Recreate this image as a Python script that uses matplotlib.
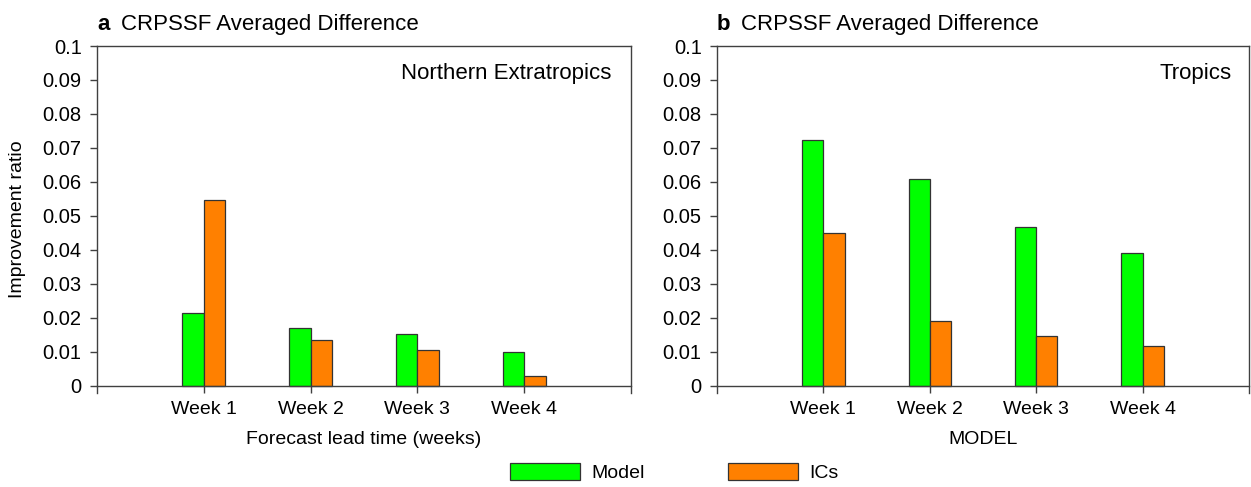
import matplotlib
matplotlib.use("Agg")
import matplotlib.pyplot as plt
import numpy as np

plt.rcParams['font.family'] = ['Liberation Sans', 'DejaVu Sans']

weeks = ["Week 1", "Week 2", "Week 3", "Week 4"]
nh_model = [0.0214, 0.0172, 0.0152, 0.0101]
nh_ics = [0.0547, 0.0135, 0.0105, 0.0029]
tr_model = [0.0724, 0.0608, 0.0467, 0.0391]
tr_ics = [0.0451, 0.0192, 0.0147, 0.0118]
yticks = [0, 0.01, 0.02, 0.03, 0.04, 0.05, 0.06, 0.07, 0.08, 0.09, 0.1]
ytick_labels = ["0", "0.01", "0.02", "0.03", "0.04", "0.05", "0.06", "0.07", "0.08", "0.09", "0.1"]

green = "#00ff00"
orange = "#ff8000"
edge = "#333333"
spine = "#404040"

fig = plt.figure(figsize=(12.51, 4.87), dpi=100)
ax_a = fig.add_axes([97 / 1251, 1 - 393 / 487, 534 / 1251, 347 / 487])
ax_b = fig.add_axes([717 / 1251, 1 - 393 / 487, 532 / 1251, 347 / 487])


def draw_panel(ax, model, ics, letter, region, region_x, xlabel):
    x = np.arange(1, len(weeks) + 1)
    ax.bar(x - 0.1, model, width=0.2, color=green, edgecolor=edge, linewidth=0.9, label="Model")
    ax.bar(x + 0.1, ics, width=0.2, color=orange, edgecolor=edge, linewidth=0.9, label="ICs")
    ax.set_xlim(0, 5)
    ax.set_ylim(-0.00206, 0.1)
    ax.spines['bottom'].set_position(('data', 0))
    for s in ax.spines.values():
        s.set_color(spine)
        s.set_linewidth(1.0)
    ax.set_xticks(x)
    ax.set_xticklabels(weeks)
    ax.set_yticks(yticks)
    ax.set_yticklabels(ytick_labels)
    ax.tick_params(axis='y', direction='out', length=5, width=1.0, color=spine, labelsize=14.5, pad=6)
    ax.tick_params(axis='x', direction='out', length=5, width=1.0, color=spine, labelsize=14, pad=6)
    ax.text(region_x, 0.922, region, transform=ax.transAxes, ha='right', va='center', fontsize=16)
    ax.annotate(letter, xy=(0, 1), xycoords='axes fraction', xytext=(0, 15.5),
                textcoords='offset points', fontsize=16, fontweight='bold', va='center', ha='left')
    ax.annotate("CRPSSF Averaged Difference", xy=(0, 1), xycoords='axes fraction', xytext=(17, 15.5),
                textcoords='offset points', fontsize=16, va='center', ha='left')
    ax.set_xlabel(xlabel, fontsize=14, labelpad=9)


draw_panel(ax_a, nh_model, nh_ics, "a", "Northern Extratropics", 0.9625, "Forecast lead time (weeks)")
draw_panel(ax_b, tr_model, tr_ics, "b", "Tropics", 0.968, "MODEL")
ax_a.set_ylabel("Improvement ratio", fontsize=14)
ax_a.yaxis.set_label_coords(-0.133, 0.5)

handles, labels = ax_a.get_legend_handles_labels()
fig.legend(handles, labels, loc='center', bbox_to_anchor=(0.539, 0.029), ncol=2, frameon=False,
           fontsize=14, handlelength=3.6, handleheight=0.95, handletextpad=0.57,
           columnspacing=4.3, borderpad=0)

fig.savefig("out.png", dpi=100)
